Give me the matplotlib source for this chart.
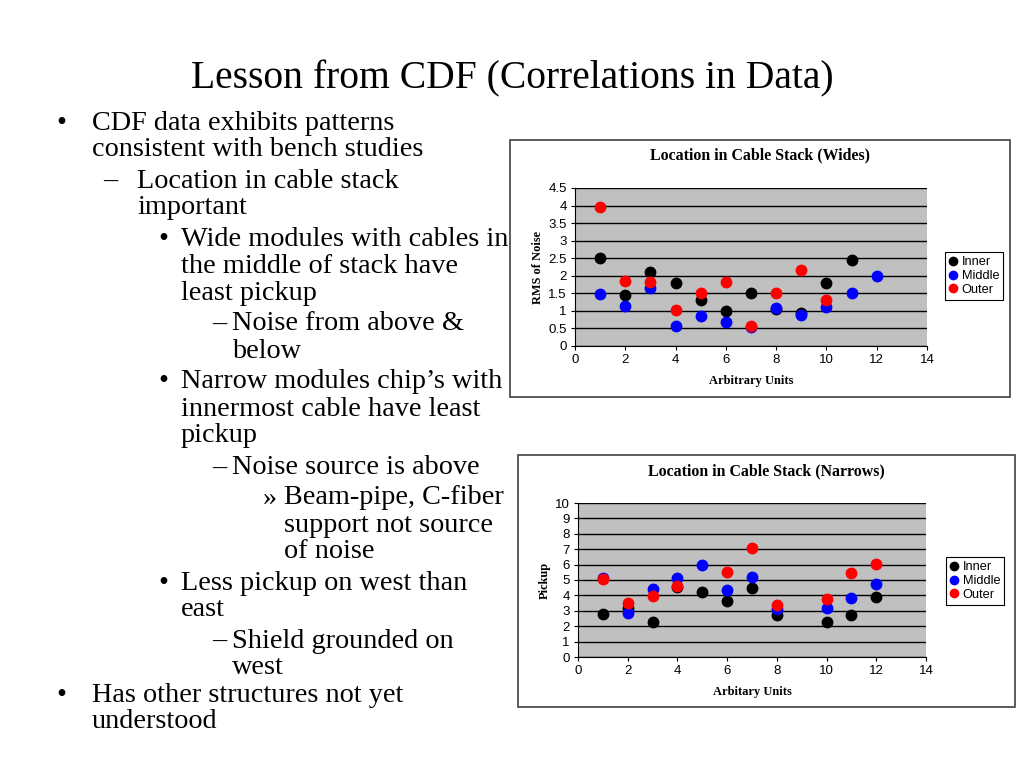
import matplotlib
matplotlib.use("Agg")
import matplotlib.pyplot as plt
from matplotlib.patches import Rectangle

# ---------------- data ----------------
wide_inner_x = [1, 2, 3, 4, 5, 6, 7, 8, 9, 10, 11]
wide_inner_y = [2.5, 1.45, 2.1, 1.8, 1.3, 1.0, 1.52, 1.05, 0.95, 1.8, 2.45]
wide_middle_x = [1, 2, 3, 4, 5, 6, 7, 8, 9, 10, 11, 12]
wide_middle_y = [1.47, 1.13, 1.65, 0.58, 0.85, 0.67, 0.55, 1.07, 0.88, 1.1, 1.5, 2.0]
wide_outer_x = [1, 2, 3, 4, 5, 6, 7, 8, 9, 10]
wide_outer_y = [3.95, 1.85, 1.82, 1.03, 1.5, 1.82, 0.57, 1.52, 2.17, 1.3]

narrow_inner_x = [1, 2, 3, 4, 5, 6, 7, 8, 10, 11, 12]
narrow_inner_y = [2.8, 3.2, 2.3, 4.55, 4.25, 3.65, 4.5, 2.7, 2.3, 2.7, 3.9]
narrow_middle_x = [1, 2, 3, 4, 5, 6, 7, 8, 10, 11, 12]
narrow_middle_y = [5.1, 2.85, 4.4, 5.1, 6.0, 4.35, 5.2, 3.1, 3.2, 3.85, 4.75]
narrow_outer_x = [1, 2, 3, 4, 6, 7, 8, 10, 11, 12]
narrow_outer_y = [5.05, 3.5, 3.95, 4.6, 5.5, 7.05, 3.35, 3.75, 5.45, 6.05]

series_names = ["Inner", "Middle", "Outer"]
series_colors = ["black", "#0000FF", "#FF0000"]

W, H = 1024, 768
fig = plt.figure(figsize=(W / 100, H / 100), dpi=100)
fig.patch.set_facecolor("white")

SERIF = ["Liberation Serif", "DejaVu Serif"]
SANS = ["Liberation Sans", "DejaVu Sans"]


def fx(x):
    return x / W


def fy(y):
    return 1 - y / H


# ---------------- slide title ----------------
fig.text(fx(512), fy(79), "Lesson from CDF (Correlations in Data)", ha="center", va="center",
         fontsize=28.5, family=SERIF)

# ---------------- bullet text ----------------
fs = 20.3
dy = 3
lines = [
    # (bullet, bullet_x, text_x, y, text)
    ("\u2022", 56, 92, 120, "CDF data exhibits patterns"),
    (None, None, 92, 147, "consistent with bench studies"),
    ("\u2013", 103, 137, 178, "Location in cable stack"),
    (None, None, 137, 205, "important"),
    ("\u2022", 158, 181, 236, "Wide modules with cables in"),
    (None, None, 181, 263, "the middle of stack have"),
    (None, None, 181, 290, "least pickup"),
    ("\u2013", 212, 232, 321, "Noise from above &"),
    (None, None, 232, 348, "below"),
    ("\u2022", 158, 181, 379, "Narrow modules chip\u2019s with"),
    (None, None, 181, 406, "innermost cable have least"),
    (None, None, 181, 433, "pickup"),
    ("\u2013", 212, 232, 465, "Noise source is above"),
    ("\u00bb", 263, 284, 495, "Beam-pipe, C-fiber"),
    (None, None, 284, 522, "support not source"),
    (None, None, 284, 549, "of noise"),
    ("\u2022", 158, 181, 580, "Less pickup on west than"),
    (None, None, 181, 607, "east"),
    ("\u2013", 212, 232, 638, "Shield grounded on"),
    (None, None, 232, 665, "west"),
    ("\u2022", 56, 92, 692, "Has other structures not yet"),
    (None, None, 92, 719, "understood"),
]
for b, bx, tx, y, t in lines:
    if b:
        fig.text(fx(bx), fy(y + dy), b, ha="left", va="center", fontsize=fs, family=SERIF)
    fig.text(fx(tx), fy(y + dy), t, ha="left", va="center", fontsize=fs, family=SERIF)


# ---------------- charts ----------------
def chart(box, plot, legend_c, title, title_y, xlabel, ylabel, ymax, ystep, yticklabels, data):
    bx0, by0, bx1, by1 = box
    fig.add_artist(Rectangle((fx(bx0), fy(by1)), fx(bx1 - bx0), (by1 - by0) / H,
                             transform=fig.transFigure, facecolor="white",
                             edgecolor="#404040", lw=1.2, zorder=0))
    fig.text(fx((bx0 + bx1) / 2), fy(title_y), title, ha="center", va="center",
             fontsize=11.4, fontweight="bold", family=SERIF)
    px0, py0, px1, py1 = plot
    ax = fig.add_axes([fx(px0), fy(py1), fx(px1 - px0), (py1 - py0) / H])
    ax.set_facecolor("#C0C0C0")
    for (xs, ys), name, c in zip(data, series_names, series_colors):
        ax.plot(xs, ys, ls="none", marker="o", ms=7.5, color=c, mec=c, label=name)
    ax.set_xlim(0, 14)
    ax.set_ylim(0, ymax)
    ax.set_xticks(range(0, 15, 2))
    yt = [i * ystep for i in range(len(yticklabels))]
    ax.set_yticks(yt)
    ax.set_yticklabels(yticklabels)
    ax.grid(axis="y", color="black", lw=1)
    ax.set_axisbelow(True)
    for s in ["top", "right"]:
        ax.spines[s].set_visible(False)
    for s in ["left", "bottom"]:
        ax.spines[s].set_color("black")
    ax.tick_params(labelsize=9.5, length=3, width=0.8, direction="out", pad=3)
    for lab in ax.get_xticklabels() + ax.get_yticklabels():
        lab.set_family(SANS)
    ax.set_xlabel(xlabel, fontsize=8.9, fontweight="bold", family=SERIF, labelpad=6)
    ax.set_ylabel(ylabel, fontsize=8.9, fontweight="bold", family=SERIF, labelpad=3)
    leg = ax.legend(loc="center left", bbox_to_anchor=(fx(legend_c[0]), fy(legend_c[1])),
                    bbox_transform=fig.transFigure, fontsize=9.2, frameon=True,
                    fancybox=False, edgecolor="black", framealpha=1, markerscale=0.8,
                    handlelength=0.7, handletextpad=0.3, borderpad=0.3,
                    labelspacing=0.15, borderaxespad=0)
    leg.get_frame().set_linewidth(0.8)
    for t in leg.get_texts():
        t.set_family(SANS)
    return ax


chart((510, 140, 1010, 397), (575, 188, 927, 346), (945, 276),
      "Location in Cable Stack (Wides)", 155, "Arbitrary Units", "RMS of Noise",
      4.5, 0.5, ["0", "0.5", "1", "1.5", "2", "2.5", "3", "3.5", "4", "4.5"],
      [(wide_inner_x, wide_inner_y), (wide_middle_x, wide_middle_y),
       (wide_outer_x, wide_outer_y)])

chart((518, 455, 1015, 707), (578, 503, 926, 657), (946, 581),
      "Location in Cable Stack (Narrows)", 471, "Arbitary Units", "Pickup",
      10, 1, [str(i) for i in range(11)],
      [(narrow_inner_x, narrow_inner_y), (narrow_middle_x, narrow_middle_y),
       (narrow_outer_x, narrow_outer_y)])

fig.savefig("out.png", dpi=100)
